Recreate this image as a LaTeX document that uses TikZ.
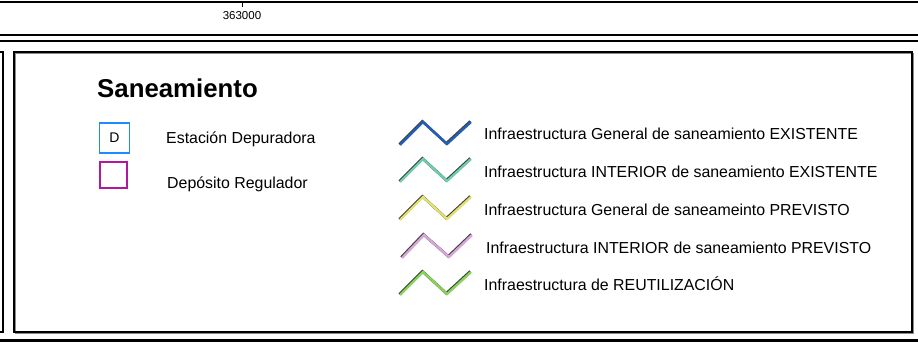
\documentclass[tikz,border=0pt]{standalone}
\usepackage{fontspec}
\setmainfont{Liberation Sans}
\usepackage{xcolor}
\usepackage{tikz}
\usetikzlibrary{positioning}

\definecolor{depblue}{RGB}{30,140,255}
\definecolor{regmag}{RGB}{176,24,160}
\definecolor{genexist}{RGB}{35,95,185}
\definecolor{intexist}{RGB}{110,205,170}
\definecolor{genprev}{RGB}{225,225,110}
\definecolor{intprev}{RGB}{215,165,215}
\definecolor{reuse}{RGB}{135,210,90}

\begin{document}
\begin{tikzpicture}[
    x=1pt, y=-1pt,
    frameline/.style={draw=black, line width=2pt},
    panel/.style={draw=black, line width=1.4pt},
    symbox/.style={rectangle, draw, line width=1.6pt, inner sep=0pt, font=\fontsize{14}{16}\selectfont},
    legtext/.style={anchor=base west, inner sep=0pt, font=\fontsize{15.9}{18}\selectfont},
    pipe/.style={line width=2.4pt, line join=miter},
    pipeshadow/.style={line width=2.6pt, draw=black!75, line join=miter, xshift=-0.7pt, yshift=0.7pt}
]
\useasboundingbox (0,0) rectangle (918,343);

% Top: coordinate band
\draw[frameline] (0,2) -- (918,2);
\draw[line width=1pt] (242,2) -- (242,7);
\node[font=\fontsize{11.5}{13}\selectfont, inner sep=0pt] (coord) at (242,16) {363000};
\draw[frameline] (0,35) -- (918,35);
\draw[frameline] (0,41) -- (918,41);
\draw[frameline, line width=3pt] (0,340) -- (918,340);

% Left panel edge
\draw[panel] (0,52) -- (3,52) -- (3,332) -- (0,332);

% Legend frame
\draw[draw=black!45, line width=1.4pt] (15.5,53.5) rectangle (913.5,333.5);
\draw[panel] (14,52) rectangle (912,332);

% Left: symbols
\node[anchor=base west, inner sep=0pt, font=\bfseries\fontsize{25.8}{28}\selectfont] (title) at (97,97) {Saneamiento};
\node[symbox, draw=depblue, minimum width=30pt, minimum height=30pt] (edar) at (114.5,138) {D};
\node[symbox, draw=regmag, minimum width=27pt, minimum height=26pt] (deposito) at (113.5,175) {};
\node[legtext] (edartxt) at (166,143) {Estación Depuradora};
\node[legtext] (deptxt) at (167,188) {Depósito Regulador};

% Right: networks
\draw[pipeshadow] (400,145) -- (423,122) -- (447,144) -- (471,122);
\draw[pipe, draw=genexist] (400,145) -- (423,122) -- (447,144) -- (471,122);
\node[legtext] (genex) at (484,139) {Infraestructura General de saneamiento EXISTENTE};

\draw[pipeshadow] (400,182) -- (423,159) -- (447,181) -- (471,159);
\draw[pipe, draw=intexist] (400,182) -- (423,159) -- (447,181) -- (471,159);
\node[legtext] (intex) at (484,177) {Infraestructura INTERIOR de saneamiento EXISTENTE};

\draw[pipeshadow] (400,220) -- (423,197) -- (447,219) -- (471,197);
\draw[pipe, draw=genprev] (400,220) -- (423,197) -- (447,219) -- (471,197);
\node[legtext] (genpr) at (484,215) {Infraestructura General de saneameinto PREVISTO};

\draw[pipeshadow] (402,258) -- (424,235) -- (449,257) -- (472,235);
\draw[pipe, draw=intprev] (402,258) -- (424,235) -- (449,257) -- (472,235);
\node[legtext] (intpr) at (486,253) {Infraestructura INTERIOR de saneamiento PREVISTO};

\draw[pipeshadow] (400,295) -- (423,272) -- (447,294) -- (471,272);
\draw[pipe, draw=reuse] (400,295) -- (423,272) -- (447,294) -- (471,272);
\node[legtext] (reut) at (484,290) {Infraestructura de REUTILIZACIÓN};

\end{tikzpicture}
\end{document}
